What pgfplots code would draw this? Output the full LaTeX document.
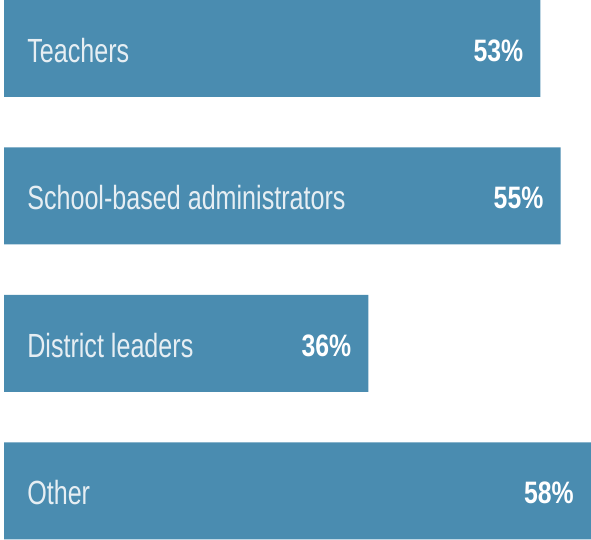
\documentclass[border=0pt]{standalone}
\usepackage{fontspec}
\usepackage{pgfplots}
\pgfplotsset{compat=1.18}
\newfontfamily\labfont[FakeStretch=0.75]{Liberation Sans}
\newfontfamily\valfont[FakeStretch=0.8]{Liberation Sans Bold}
\definecolor{barblue}{HTML}{4A8CB0}
\definecolor{labwhite}{HTML}{E6EEF3}

\begin{document}
\begin{tikzpicture}
\begin{axis}[
    xbar,
    axis on top,
    scale only axis,
    width=591pt, height=540pt,
    xmin=-0.395, xmax=58,
    ymin=-0.332, ymax=3.329,
    bar width=97pt,
    axis line style={draw=none},
    major tick length=0pt,
    xtick=\empty,
    ytick={0,1,2,3},
    yticklabels={Other, District leaders, School-based administrators, Teachers},
    yticklabel style={anchor=west, xshift=27pt, yshift=-2pt, inner sep=0pt,
        text=labwhite, font=\labfont\fontsize{33.5}{40}\selectfont},
    point meta=explicit symbolic,
    nodes near coords={\pgfplotspointmeta},
    nodes near coords align={anchor=east},
    every node near coord/.append style={anchor=east, xshift=-17pt, yshift=-2pt,
        inner sep=0pt, text=white, font=\valfont\fontsize{31}{36}\selectfont},
]
\addplot[fill=barblue, draw=none] coordinates {
    (58,0) [58\%]
    (36,1) [36\%]
    (55,2) [55\%]
    (53,3) [53\%]
};
\end{axis}
\end{tikzpicture}
\end{document}
